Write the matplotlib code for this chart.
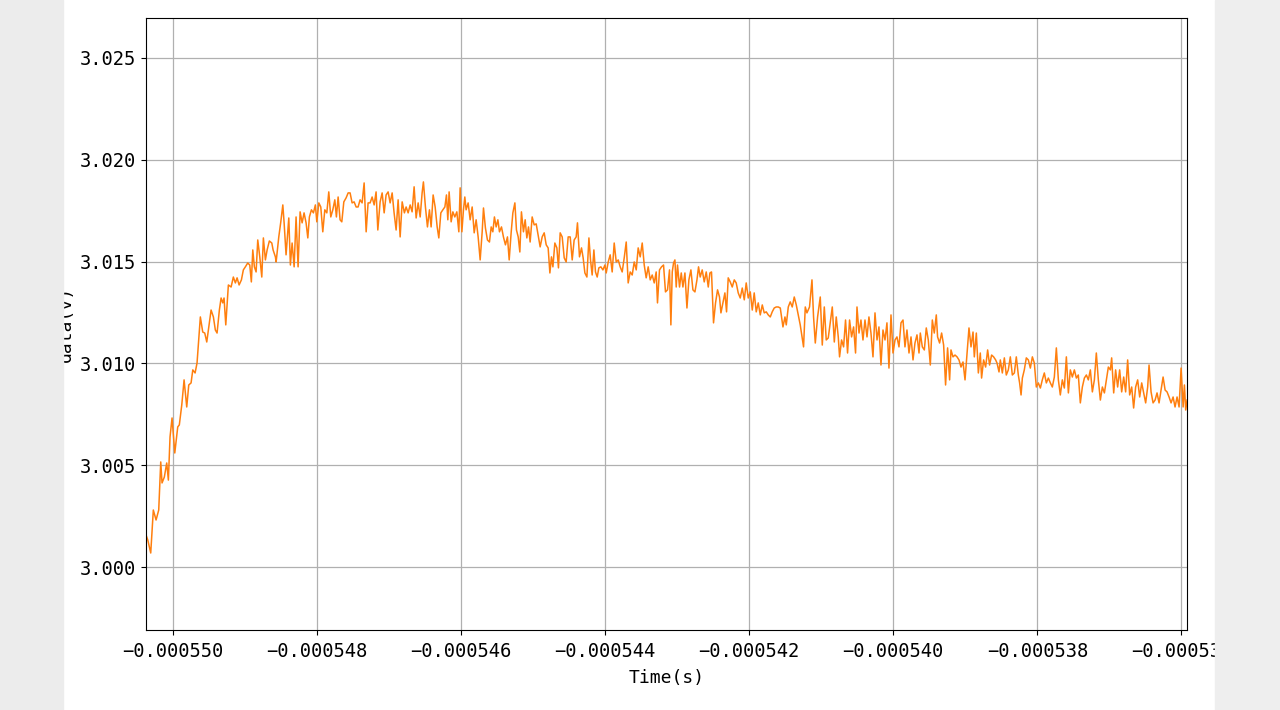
import numpy as np
import matplotlib
matplotlib.use('Agg')
import matplotlib.pyplot as plt
from matplotlib.patches import Rectangle
from matplotlib.ticker import MultipleLocator

plt.rcParams['font.family'] = ['DejaVu Sans Mono', 'Liberation Mono']

# sample times in microseconds
time_us = [
    -550.375, -550.351, -550.310, -550.274, -550.236, -550.199, -550.171, -550.153,
    -550.121, -550.088, -550.065, -550.042, -550.014, -549.976, -549.935, -549.913,
    -549.879, -549.847, -549.810, -549.782, -549.750, -549.726, -549.694, -549.667,
    -549.621, -549.588, -549.560, -549.532, -549.504, -549.472, -549.440, -549.413,
    -549.389, -549.357, -549.333, -549.310, -549.292, -549.268, -549.232, -549.194,
    -549.163, -549.135, -549.111, -549.083, -549.051, -549.024, -548.996, -548.963,
    -548.935, -548.913, -548.893, -548.871, -548.847, -548.824, -548.796, -548.768,
    -548.746, -548.718, -548.694, -548.663, -548.629, -548.611, -548.579,
    -548.569, -548.532, -548.504, -548.476, -548.458, -548.431, -548.393, -548.371,
    -548.347, -548.319, -548.292, -548.264, -548.236, -548.208, -548.181, -548.153,
    -548.129, -548.107, -548.079, -548.051, -548.024, -548.004, -547.976, -547.949,
    -547.921, -547.893, -547.865, -547.838, -547.810, -547.782, -547.754, -547.732,
    -547.708, -547.681, -547.657, -547.629, -547.597, -547.569, -547.542, -547.514,
    -547.486, -547.458, -547.431, -547.403, -547.375, -547.347, -547.319, -547.292,
    -547.264, -547.236, -547.208, -547.181, -547.157, -547.125, -547.097, -547.069,
    -547.042, -547.014, -546.986, -546.958, -546.931, -546.903, -546.875, -546.847,
    -546.819, -546.788,
    -546.764, -546.736, -546.708, -546.681, -546.653, -546.625, -546.597, -546.569,
    -546.542, -546.524, -546.496, -546.468, -546.440, -546.417, -546.389, -546.361,
    -546.333, -546.310, -546.282, -546.254, -546.226, -546.204, -546.185, -546.167,
    -546.139, -546.115, -546.088, -546.060, -546.032, -546.014, -545.990, -545.968,
    -545.949, -545.931, -545.903, -545.875, -545.847, -545.819, -545.792, -545.764,
    -545.736, -545.708, -545.690, -545.663, -545.635, -545.607, -545.583, -545.560,
    -545.538, -545.514, -545.490, -545.468, -545.440, -545.413, -545.385, -545.357,
    -545.333, -545.306, -545.282, -545.254, -545.232, -545.208, -545.185, -545.163,
    -545.135, -545.111, -545.088, -545.065, -545.042, -545.014, -544.986,
    -544.958, -544.931, -544.903, -544.875, -544.847, -544.819, -544.792, -544.768,
    -544.746, -544.726, -544.699, -544.671, -544.649, -544.625, -544.597, -544.569,
    -544.542, -544.514, -544.486, -544.458, -544.431, -544.403, -544.385, -544.357,
    -544.329, -544.306, -544.282, -544.254, -544.226, -544.204, -544.181, -544.157,
    -544.135, -544.111, -544.088, -544.060, -544.032, -544.004, -543.986, -543.958,
    -543.931, -543.903, -543.875, -543.847, -543.819, -543.792, -543.764, -543.736,
    -543.708, -543.681, -543.653, -543.625, -543.597, -543.569, -543.542, -543.514,
    -543.486, -543.458, -543.431, -543.403, -543.375, -543.347, -543.319, -543.292,
    -543.274, -543.246, -543.218, -543.190, -543.163,
    -543.135, -543.107, -543.088, -543.069, -543.051, -543.032, -543.014, -542.996,
    -542.968, -542.944, -542.921, -542.893, -542.865, -542.838, -542.810, -542.782,
    -542.754, -542.726, -542.704, -542.681, -542.653, -542.625, -542.597, -542.569,
    -542.546, -542.524, -542.496, -542.468, -542.440, -542.413, -542.393, -542.365,
    -542.338, -542.315, -542.292, -542.264, -542.236, -542.208, -542.181, -542.153,
    -542.125, -542.097, -542.069, -542.042, -542.014, -541.986, -541.958, -541.931,
    -541.903, -541.875, -541.847, -541.819, -541.792, -541.764, -541.736, -541.708,
    -541.681, -541.653, -541.625, -541.597, -541.569, -541.551, -541.532, -541.504,
    -541.486, -541.458, -541.431, -541.403, -541.375, -541.347,
    -541.292, -541.246, -541.222, -541.199, -541.163, -541.129, -541.107, -541.083,
    -541.051, -541.014, -540.986, -540.958, -540.931, -540.903, -540.875, -540.847,
    -540.819, -540.792, -540.764, -540.746, -540.718, -540.690, -540.663, -540.635,
    -540.607, -540.579, -540.551, -540.524, -540.504, -540.476, -540.449, -540.421,
    -540.393, -540.365, -540.338, -540.310, -540.282, -540.254, -540.226, -540.199,
    -540.171, -540.143, -540.115, -540.088, -540.060, -540.032, -540.004, -539.976,
    -539.949, -539.921, -539.893, -539.865, -539.838, -539.810, -539.782, -539.754,
    -539.726, -539.699, -539.671, -539.643, -539.625, -539.597, -539.569, -539.542,
    -539.514, -539.486, -539.458, -539.431, -539.403,
    -539.385, -539.357, -539.329, -539.301, -539.274, -539.246, -539.218, -539.199,
    -539.171, -539.143, -539.115, -539.088, -539.060, -539.032, -539.004, -538.976,
    -538.949, -538.921, -538.893, -538.875, -538.847, -538.819, -538.792, -538.774,
    -538.746, -538.718, -538.690, -538.663, -538.635, -538.607, -538.579, -538.560,
    -538.532, -538.514, -538.486, -538.458, -538.431, -538.403, -538.375, -538.347,
    -538.319, -538.292, -538.264, -538.246, -538.226, -538.208, -538.181, -538.153,
    -538.125, -538.097, -538.069, -538.042, -538.014, -537.986, -537.958, -537.931,
    -537.903, -537.875, -537.847, -537.819, -537.792, -537.764, -537.736, -537.708,
    -537.681, -537.653, -537.625, -537.597, -537.569, -537.542, -537.514, -537.486,
    -537.458, -537.431, -537.403, -537.375, -537.347, -537.319, -537.292, -537.264,
    -537.236, -537.208, -537.181, -537.153, -537.125, -537.097, -537.069, -537.042,
    -537.014, -536.986, -536.968, -536.940, -536.913, -536.885, -536.857, -536.829,
    -536.801, -536.774, -536.746, -536.718, -536.690, -536.663, -536.635, -536.607,
    -536.579, -536.551, -536.524, -536.496, -536.468, -536.449, -536.421, -536.393,
    -536.365, -536.338, -536.310, -536.282, -536.254, -536.226, -536.199, -536.171,
    -536.143, -536.115, -536.088, -536.060, -536.032, -536.004, -535.976, -535.958,
    -535.940, -535.921,
]

# measured voltage (V)
data_v = [
    3.00157, 3.00133, 3.00069, 3.00280, 3.00231, 3.00280, 3.00516, 3.00413,
    3.00442, 3.00511, 3.00427, 3.00639, 3.00732, 3.00560, 3.00688, 3.00698,
    3.00796, 3.00919, 3.00786, 3.00894, 3.00904, 3.00968, 3.00953, 3.01002,
    3.01228, 3.01154, 3.01149, 3.01105, 3.01179, 3.01262, 3.01228, 3.01164,
    3.01149, 3.01262, 3.01321, 3.01297, 3.01321, 3.01189, 3.01385, 3.01375,
    3.01424, 3.01395, 3.01420, 3.01385, 3.01410, 3.01459, 3.01474, 3.01493,
    3.01483, 3.01400, 3.01557, 3.01474, 3.01449, 3.01606, 3.01523, 3.01424,
    3.01616, 3.01508, 3.01557, 3.01601, 3.01591, 3.01557, 3.01523,
    3.01498, 3.01621, 3.01695, 3.01778, 3.01690, 3.01533, 3.01714, 3.01483,
    3.01591, 3.01474, 3.01719, 3.01474, 3.01744, 3.01690, 3.01739, 3.01690,
    3.01616, 3.01719, 3.01754, 3.01739, 3.01778, 3.01695, 3.01788, 3.01768,
    3.01646, 3.01754, 3.01739, 3.01842, 3.01719, 3.01754, 3.01803, 3.01719,
    3.01817, 3.01705, 3.01695, 3.01793, 3.01813, 3.01837, 3.01837, 3.01788,
    3.01793, 3.01768, 3.01768, 3.01803, 3.01788, 3.01886, 3.01646, 3.01788,
    3.01788, 3.01817, 3.01778, 3.01842, 3.01655, 3.01793, 3.01837, 3.01739,
    3.01827, 3.01842, 3.01788, 3.01837, 3.01739, 3.01655, 3.01803, 3.01621,
    3.01793, 3.01739,
    3.01768, 3.01739, 3.01778, 3.01744, 3.01867, 3.01714, 3.01788, 3.01719,
    3.01837, 3.01891, 3.01768, 3.01670, 3.01754, 3.01670, 3.01827, 3.01768,
    3.01670, 3.01616, 3.01739, 3.01754, 3.01768, 3.01827, 3.01705, 3.01842,
    3.01695, 3.01744, 3.01719, 3.01744, 3.01646, 3.01862, 3.01646, 3.01754,
    3.01817, 3.01754, 3.01788, 3.01705, 3.01768, 3.01641, 3.01705, 3.01621,
    3.01508, 3.01646, 3.01763, 3.01665, 3.01606, 3.01596, 3.01670, 3.01646,
    3.01719, 3.01670, 3.01705, 3.01646, 3.01670, 3.01621, 3.01582, 3.01621,
    3.01508, 3.01641, 3.01739, 3.01788, 3.01655, 3.01621, 3.01547, 3.01744,
    3.01646, 3.01705, 3.01616, 3.01670, 3.01596, 3.01719, 3.01680,
    3.01685, 3.01631, 3.01572, 3.01621, 3.01641, 3.01582, 3.01567, 3.01444,
    3.01523, 3.01474, 3.01591, 3.01567, 3.01469, 3.01641, 3.01621, 3.01518,
    3.01498, 3.01621, 3.01621, 3.01508, 3.01606, 3.01621, 3.01690, 3.01523,
    3.01567, 3.01518, 3.01444, 3.01424, 3.01616, 3.01508, 3.01434, 3.01557,
    3.01449, 3.01424, 3.01469, 3.01474, 3.01459, 3.01483, 3.01444, 3.01498,
    3.01533, 3.01449, 3.01591, 3.01498, 3.01508, 3.01474, 3.01449, 3.01518,
    3.01596, 3.01395, 3.01449, 3.01434, 3.01498, 3.01459, 3.01567, 3.01523,
    3.01591, 3.01483, 3.01420, 3.01474, 3.01410, 3.01434, 3.01395, 3.01449,
    3.01297, 3.01459, 3.01474, 3.01483, 3.01351,
    3.01361, 3.01459, 3.01189, 3.01449, 3.01493, 3.01508, 3.01375, 3.01483,
    3.01375, 3.01444, 3.01375, 3.01444, 3.01272, 3.01410, 3.01459, 3.01361,
    3.01351, 3.01410, 3.01474, 3.01424, 3.01459, 3.01400, 3.01449, 3.01375,
    3.01444, 3.01449, 3.01199, 3.01297, 3.01361, 3.01326, 3.01248, 3.01297,
    3.01346, 3.01253, 3.01420, 3.01400, 3.01375, 3.01410, 3.01395, 3.01346,
    3.01321, 3.01370, 3.01312, 3.01395, 3.01321, 3.01351, 3.01262, 3.01346,
    3.01253, 3.01297, 3.01238, 3.01287, 3.01248, 3.01253, 3.01238, 3.01228,
    3.01253, 3.01272, 3.01277, 3.01277, 3.01272, 3.01228, 3.01179, 3.01228,
    3.01189, 3.01277, 3.01302, 3.01277, 3.01326, 3.01287,
    3.01189, 3.01081, 3.01277, 3.01248, 3.01277, 3.01410, 3.01228, 3.01100,
    3.01228, 3.01326, 3.01090, 3.01277, 3.01115, 3.01125, 3.01199, 3.01277,
    3.01105, 3.01228, 3.01130, 3.01032, 3.01115, 3.01081, 3.01213, 3.01051,
    3.01213, 3.01130, 3.01179, 3.01051, 3.01277, 3.01149, 3.01213, 3.01115,
    3.01213, 3.01130, 3.01228, 3.01149, 3.01032, 3.01248, 3.01115, 3.01179,
    3.00992, 3.01164, 3.01115, 3.01199, 3.00977, 3.01238, 3.01051, 3.01115,
    3.01130, 3.01081, 3.01199, 3.01213, 3.01081, 3.01164, 3.01051, 3.01130,
    3.01017, 3.01100, 3.01140, 3.01051, 3.01149, 3.01081, 3.01066, 3.01174,
    3.01115, 3.00992, 3.01213, 3.01149, 3.01238,
    3.01130, 3.01100, 3.01149, 3.01090, 3.00894, 3.01076, 3.00919, 3.01066,
    3.01032, 3.01041, 3.01032, 3.01017, 3.00982, 3.01007, 3.00919, 3.01051,
    3.01174, 3.01081, 3.01154, 3.01032, 3.01149, 3.00953, 3.01051, 3.00928,
    3.01017, 3.00982, 3.01066, 3.00992, 3.01041, 3.01032, 3.01017, 3.01002,
    3.00958, 3.01017, 3.00953, 3.01027, 3.00943, 3.00968, 3.01032, 3.00943,
    3.00953, 3.01032, 3.00943, 3.00904, 3.00845, 3.00928, 3.00968, 3.01027,
    3.01017, 3.00977, 3.01032, 3.01002, 3.00884, 3.00904, 3.00879, 3.00919,
    3.00953, 3.00904, 3.00928, 3.00904, 3.00884, 3.00933, 3.01076, 3.00919,
    3.00845, 3.00919, 3.00879, 3.01032, 3.00855, 3.00968, 3.00933, 3.00968,
    3.00928, 3.00943, 3.00806, 3.00884, 3.00928, 3.00943, 3.00919, 3.00968,
    3.00860, 3.00919, 3.01051, 3.00919, 3.00820, 3.00884, 3.00855, 3.00919,
    3.00982, 3.00968, 3.01027, 3.00855, 3.00968, 3.00884, 3.00968, 3.00860,
    3.00933, 3.00860, 3.01017, 3.00845, 3.00884, 3.00781, 3.00884, 3.00919,
    3.00835, 3.00904, 3.00855, 3.00806, 3.00884, 3.00992, 3.00860, 3.00806,
    3.00820, 3.00855, 3.00806, 3.00869, 3.00933, 3.00869, 3.00860, 3.00835,
    3.00806, 3.00835, 3.00786, 3.00835, 3.00786, 3.00977, 3.00786, 3.00894,
    3.00771, 3.00820,
]

time_s = np.array(time_us) * 1e-6

fig = plt.figure(figsize=(12.8, 7.1), dpi=100)
ax = fig.add_axes([0.1141, 0.1127, 0.8133, 0.8620])

ax.plot(time_s, data_v, color='#ff7f0e', linewidth=1.1)
ax.set_xlim(time_s[0], time_s[-1])
ax.set_ylim(2.99691, 3.02696)
ax.xaxis.set_major_locator(MultipleLocator(2e-6))
ax.yaxis.set_major_locator(MultipleLocator(0.005))
ax.ticklabel_format(useOffset=False, style='plain')
ax.tick_params(labelsize=13.5)
ax.tick_params(axis='x', pad=5)
ax.grid(True, color='#b0b0b0', linewidth=0.9)
ax.set_xlabel('Time(s)', fontsize=13, labelpad=6)
ax.set_ylabel('data(v)', fontsize=13)

# screenshot borders
fig.patches.append(Rectangle((0, 0), 63 / 1280, 1, transform=fig.transFigure,
                             color='#ececec', zorder=5))
fig.patches.append(Rectangle((1215 / 1280, 0), 65 / 1280, 1, transform=fig.transFigure,
                             color='#eeeeee', zorder=5))

fig.savefig('out.png', dpi=100)
